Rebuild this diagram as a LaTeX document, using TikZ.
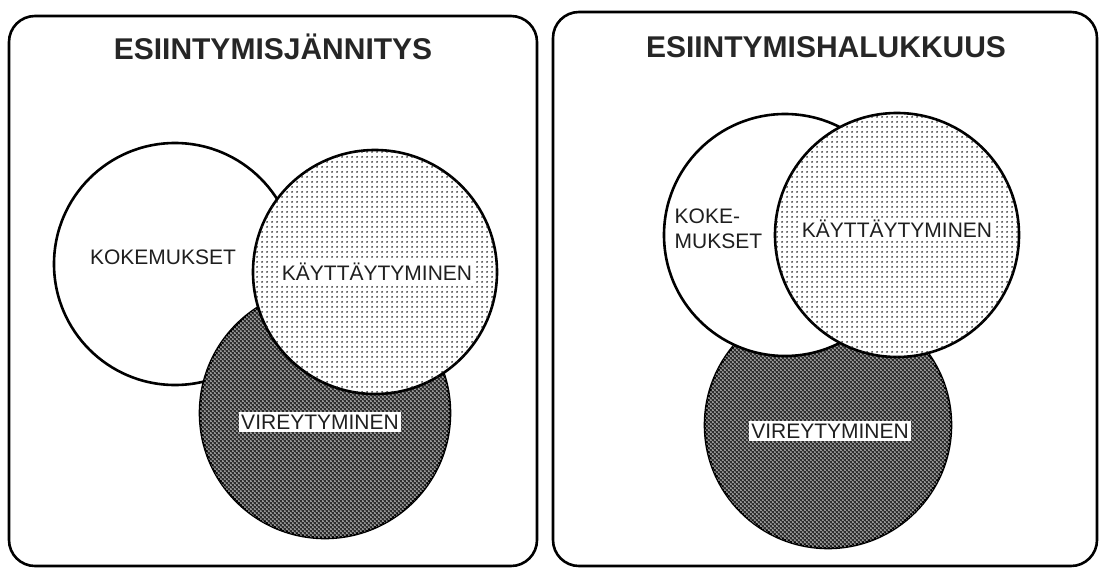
\documentclass[tikz,border=0pt]{standalone}
\usepackage{fontspec}
\setmainfont{Liberation Sans}
\usetikzlibrary{patterns}
\pgfdeclarepatternformonly{lightdots}{\pgfpointorigin}{\pgfpoint{5pt}{5pt}}{\pgfpoint{5pt}{5pt}}{%
  \pgfpathcircle{\pgfpoint{2.5pt}{2.5pt}}{1.15pt}\pgfusepath{fill}}
\pgfdeclarepatternformonly{darkdots}{\pgfpointorigin}{\pgfpoint{4.4pt}{4.4pt}}{\pgfpoint{4.4pt}{4.4pt}}{%
  \pgfpathcircle{\pgfpoint{1.1pt}{1.1pt}}{0.9pt}\pgfpathcircle{\pgfpoint{3.3pt}{3.3pt}}{0.9pt}\pgfusepath{fill}}
\tikzset{
  panel/.style={draw, line width=2.6pt, rounded corners=26pt},
  ring/.style={circle, draw, line width=2.6pt, inner sep=0pt, minimum size=#1},
  plain/.style={fill=white},
  light/.style={fill=white, postaction={pattern=lightdots, pattern color=black!85}},
  dark/.style={fill=black!82, postaction={pattern=darkdots, pattern color=white}},
  title/.style={font=\fontsize{30}{32}\selectfont\bfseries, inner sep=0pt, text=black!85},
  lbl/.style={font=\fontsize{21}{25}\selectfont, inner sep=2.5pt, text=black!88},
  boxlbl/.style={lbl, fill=white},
}
\begin{document}
\begin{tikzpicture}[x=1pt, y=-1pt]
\useasboundingbox (0,0) rectangle (1099,568);
% left panel
\draw[panel] (9,16) rectangle (537,566);
\node[title] (t1) at (273,47) {ESIINTYMISJÄNNITYS};
\node[ring=242pt, plain] (k1) at (175,264) {};
\node[ring=250pt, dark] (v1) at (325,413) {};
\node[ring=244pt, light] (b1) at (375,272) {};
\node[lbl] (lk1) at (163,257) {KOKEMUKSET};
\node[boxlbl] (lb1) at (377,272) {KÄYTTÄYTYMINEN};
\node[boxlbl] (lv1) at (320,422) {VIREYTYMINEN};
% right panel
\draw[panel] (553,12) rectangle (1097,566);
\node[title] (t2) at (826,47) {ESIINTYMISHALUKKUUS};
\node[ring=246pt, dark] (v2) at (828,425) {};
\node[ring=242pt, plain] (k2) at (785,235) {};
\node[ring=244pt, light] (b2) at (897,235) {};
\node[lbl, align=left, anchor=west] (lk2) at (672,229) {KOKE-\\MUKSET};
\node[boxlbl] (lb2) at (897,229) {KÄYTTÄYTYMINEN};
\node[boxlbl] (lv2) at (830,431) {VIREYTYMINEN};
\end{tikzpicture}
\end{document}
